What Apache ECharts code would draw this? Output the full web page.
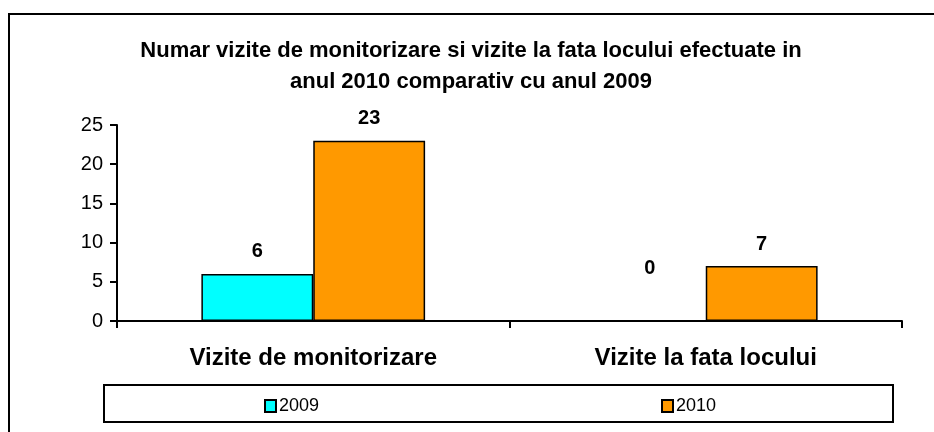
<!DOCTYPE html>
<html>
<head>
<meta charset="utf-8">
<script src="https://cdn.jsdelivr.net/npm/echarts@6/dist/echarts.min.js"></script>
<style>
html, body { margin: 0; padding: 0; background: #fff; }
#chart { width: 934px; height: 432px; }
</style>
</head>
<body>
<div id="chart"></div>
<script>
// date
var categorii = ['Vizite de monitorizare', 'Vizite la fata locului'];
var ani = ['2009', '2010'];
var valori2009 = [6, 0];
var valori2010 = [23, 7];
var culori = ['#00ffff', '#ff9900'];

var font = '"Liberation Sans", Arial, sans-serif';

function puncte(arr) {
	// eticheta pentru 0 e mai sus, ca in Excel
	return arr.map(function(v) {
		return v === 0 ? { value: v, label: { distance: 42 } } : v;
	});
}

var etichete = {
	show: true,
	position: 'top',
	distance: 12,
	fontFamily: font,
	fontSize: 20,
	fontWeight: 'bold',
	color: '#000'
};

var xx = echarts.init(document.getElementById('chart'));
xx.setOption({
	animation: false,
	title: {
		text: 'Numar vizite de monitorizare si vizite la fata locului efectuate in\nanul 2010 comparativ cu anul 2009',
		left: 466,
		top: 30,
		textAlign: 'center',
		textStyle: {
			fontFamily: font,
			fontSize: 22,
			fontWeight: 'bold',
			color: '#000',
			lineHeight: 31
		}
	},
	legend: [{
		data: [ani[0]],
		left: 259,
		top: 392,
		icon: 'rect',
		itemWidth: 11,
		itemHeight: 12,
		textStyle: { fontFamily: font, fontSize: 18, color: '#000', padding: [0, 0, 0, -2] }
	}, {
		data: [ani[1]],
		left: 656,
		top: 392,
		icon: 'rect',
		itemWidth: 11,
		itemHeight: 12,
		textStyle: { fontFamily: font, fontSize: 18, color: '#000', padding: [0, 0, 0, -2] }
	}],
	grid: {
		left: 117,
		right: 32,
		top: 125,
		bottom: 111
	},
	xAxis: {
		type: 'category',
		data: categorii,
		axisLine: { lineStyle: { color: '#000', width: 2 } },
		axisTick: { show: true, length: 7, lineStyle: { color: '#000', width: 2 } },
		axisLabel: {
			margin: 25,
			fontFamily: font,
			fontSize: 24,
			fontWeight: 'bold',
			color: '#000'
		},
		splitLine: { show: false }
	},
	yAxis: {
		type: 'value',
		min: 0,
		max: 25,
		interval: 5,
		axisLine: { show: true, lineStyle: { color: '#000', width: 2 } },
		axisTick: { show: true, length: 7, lineStyle: { color: '#000', width: 2 } },
		axisLabel: {
			margin: 14,
			fontFamily: font,
			fontSize: 20,
			color: '#000'
		},
		splitLine: { show: false }
	},
	series: [{
		name: ani[0],
		type: 'bar',
		data: puncte(valori2009),
		barGap: '0%',
		barCategoryGap: '43%',
		itemStyle: { color: culori[0], borderColor: '#000', borderWidth: 1.5 },
		label: etichete
	}, {
		name: ani[1],
		type: 'bar',
		data: puncte(valori2010),
		itemStyle: { color: culori[1], borderColor: '#000', borderWidth: 1.5 },
		label: etichete
	}],
	graphic: [{
		type: 'rect',
		shape: { x: 9, y: 14, width: 940, height: 430 },
		style: { fill: null, stroke: '#000', lineWidth: 2 },
		silent: true
	}, {
		type: 'rect',
		shape: { x: 104, y: 385, width: 789, height: 37 },
		style: { fill: null, stroke: '#000', lineWidth: 2 },
		silent: true
	}]
});
</script>
</body>
</html>
